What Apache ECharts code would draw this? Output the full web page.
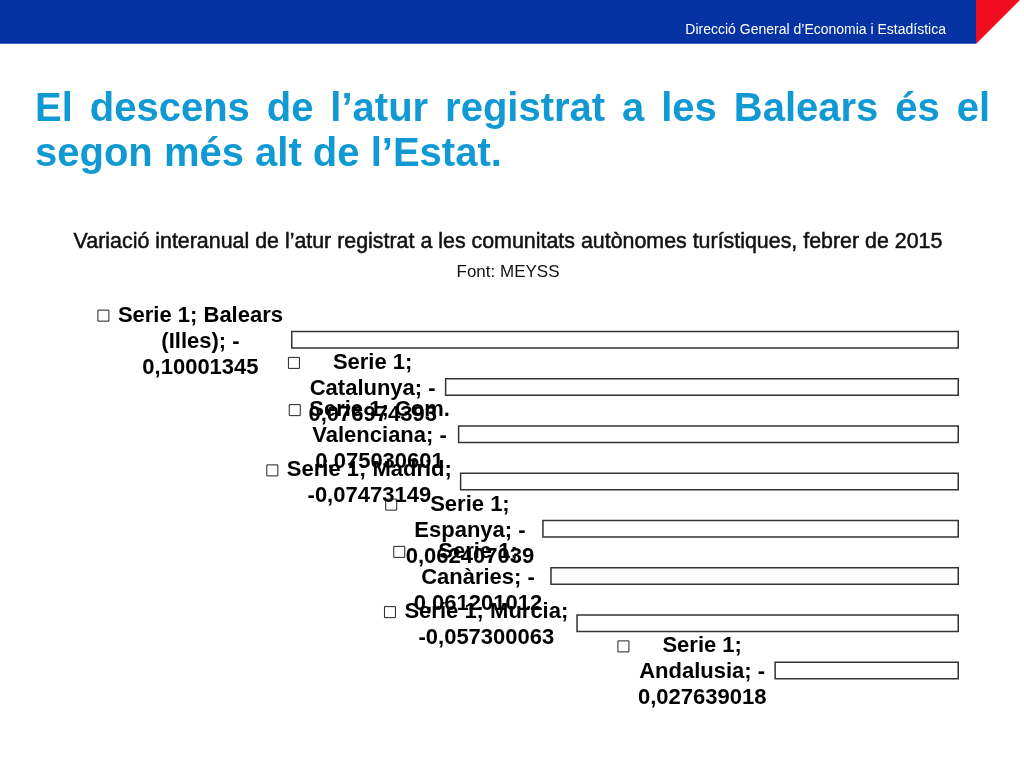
<!DOCTYPE html>
<html>
<head>
<meta charset="UTF-8">
<title>Variació interanual de l'atur registrat</title>
<script src="https://cdn.jsdelivr.net/npm/echarts@6.0.0/dist/echarts.min.js"></script>
<style>
body{margin:0;background:#fff;}
#main{width:1024px;height:768px;}
</style>
</head>
<body>
<div id="main"></div>
<script type="text/javascript">
// dades del gràfic
var categories = ['Balears (Illes)', 'Catalunya', 'Com. Valenciana', 'Madrid', 'Espanya', 'Canàries', 'Murcia', 'Andalusia'];
var values = [-0.10001345, -0.076974393, -0.075030601, -0.07473149, -0.062407039, -0.061201012, -0.057300063, -0.027639018];
var seriesName = 'Serie 1';

var headerText = 'Direcció General d\u2019Economia i Estadística';
var titleLine1 = 'El descens de l\u2019atur registrat a les Balears és el';
var titleLine2 = 'segon més alt de l\u2019Estat.';
var subText = 'Variació interanual de l\u2019atur registrat a les comunitats autònomes turístiques, febrer de 2015';
var sourceText = 'Font: MEYSS';

var FONT = '"Liberation Sans", Arial, sans-serif';
var titleColor = '#1199d4';

var ctx = document.createElement('canvas').getContext('2d');
function textWidth(s, font) {
    ctx.font = font;
    return ctx.measureText(s).width;
}

// the slide wraps labels at spaces and right after the minus sign
function wrapLabel(s) {
    var labelFont = 'bold 22px ' + FONT;
    var parts = [];
    s.split(' ').forEach(function (w, i) {
        if (w.charAt(0) == '-' && w.length > 1) {
            parts.push({t: '-', sep: i ? ' ' : ''});
            parts.push({t: w.slice(1), sep: ''});
        } else {
            parts.push({t: w, sep: i ? ' ' : ''});
        }
    });
    var lines = [], line = parts[0].t;
    for (var i = 1; i < parts.length; i++) {
        var cand = line + parts[i].sep + parts[i].t;
        var limit = lines.length == 0 ? 175 : 185;
        if (textWidth(cand, labelFont) <= limit) {
            line = cand;
        } else {
            lines.push(line);
            line = parts[i].t;
        }
    }
    lines.push(line);
    return lines;
}

// first title line is justified between 35 and 990
var titleFont = 'bold 40px ' + FONT;
var words = titleLine1.split(' ');
var wsum = 0;
for (var i = 0; i < words.length; i++) wsum += textWidth(words[i], titleFont);
var gap = (990 - 35 - wsum) / (words.length - 1);
var titleEls = [];
var tx = 35;
for (var i = 0; i < words.length; i++) {
    titleEls.push({
        type: 'text', x: tx, y: 110,
        style: {text: words[i], fill: titleColor, fontSize: 40, fontWeight: 'bold', fontFamily: FONT, align: 'left', verticalAlign: 'middle'}
    });
    tx += textWidth(words[i], titleFont) + gap;
}
titleEls.push({
    type: 'text', x: 35, y: 155,
    style: {text: titleLine2, fill: titleColor, fontSize: 40, fontWeight: 'bold', fontFamily: FONT, align: 'left', verticalAlign: 'middle'}
});

var myChart = echarts.init(document.getElementById('main'), null, {renderer: 'canvas'});

option = {
    backgroundColor: '#ffffff',
    animation: false,
    graphic: [
        {type: 'rect', shape: {x: 0, y: 0, width: 976, height: 44}, style: {fill: '#0533a4'}},
        {type: 'rect', shape: {x: 0, y: 43, width: 976, height: 1}, style: {fill: '#3f63c6'}},
        {type: 'polygon', shape: {points: [[976, 0], [1020, 0], [976, 44]]}, style: {fill: '#ee0c1d'}},
        {
            type: 'text', x: 946, y: 30,
            style: {text: headerText, fill: '#ffffff', fontSize: 14, fontFamily: FONT, align: 'right', verticalAlign: 'middle'}
        },
        {
            type: 'text', x: 508, y: 242,
            style: {text: subText, fill: '#111111', stroke: '#111111', lineWidth: 0.5, fontSize: 21.4, fontFamily: FONT, align: 'center', verticalAlign: 'middle'}
        },
        {
            type: 'text', x: 508, y: 272,
            style: {text: sourceText, fill: '#111111', fontSize: 17, fontFamily: FONT, align: 'center', verticalAlign: 'middle'}
        }
    ].concat(titleEls),
    grid: {
        left: 224.3,
        right: 65,
        top: 316,
        height: 378
    },
    xAxis: {
        type: 'value',
        min: -0.11,
        max: 0,
        show: false
    },
    yAxis: {
        type: 'category',
        inverse: true,
        data: categories,
        show: false
    },
    series: [
        {
            name: seriesName,
            type: 'bar',
            data: values,
            barWidth: 18,
            itemStyle: {color: '#ffffff', borderColor: '#333333', borderWidth: 1.5},
            label: {
                show: true,
                position: 'left',
                distance: 8,
                padding: [4, 0, 0, 0],
                color: '#000',
                formatter: function (p) {
                    var txt = seriesName + '; ' + p.name + '; ' + String(p.value).replace('.', ',');
                    var lines = wrapLabel(txt);
                    return lines.map(function (l, i) {
                        return i == 0 ? '{sq| }{gp| }{t|' + l + '}' : '{lp| }{t|' + l + '}';
                    }).join('\n');
                },
                rich: {
                    sq: {width: 11, height: 11, borderColor: '#222', borderWidth: 1, align: 'left'},
                    gp: {width: 9, align: 'left'},
                    lp: {width: 20, align: 'left'},
                    t: {align: 'center', fontSize: 22, fontWeight: 'bold', fontFamily: FONT, lineHeight: 26, color: '#000'}
                }
            }
        }
    ]
};

myChart.setOption(option);
</script>
</body>
</html>
